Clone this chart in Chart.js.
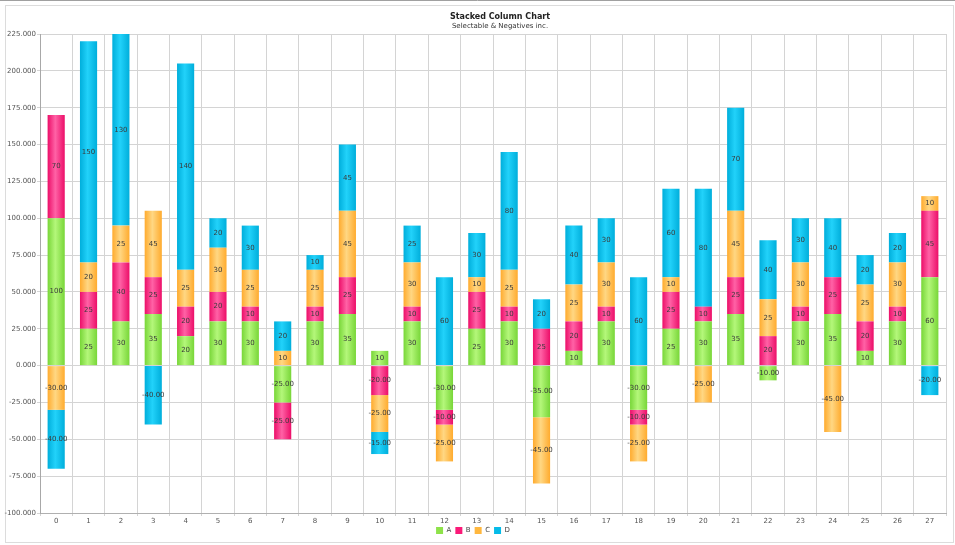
<!DOCTYPE html>
<html>
<head>
<meta charset="utf-8">
<script src="https://cdn.jsdelivr.net/npm/chart.js@4/dist/chart.umd.min.js"></script>
<style>
  html,body{margin:0;padding:0;background:#fff;}
  #wrap{width:955px;height:545px;position:relative;}
</style>
</head>
<body>
<div id="wrap"><canvas id="c" width="955" height="545"></canvas></div>
<script>
const categories = ["0","1","2","3","4","5","6","7","8","9","10","11","12","13","14","15","16","17","18","19","20","21","22","23","24","25","26","27"];
const seriesA = [100, 25, 30, 35, 20, 30, 30, -25, 30, 35, 10, 30, -30, 25, 30, -35, 10, 30, -30, 25, 30, 35, -10, 30, 35, 10, 30, 60];
const seriesB = [70, 25, 40, 25, 20, 20, 10, -25, 10, 25, -20, 10, -10, 25, 10, 25, 20, 10, -10, 25, 10, 25, 20, 10, 25, 20, 10, 45];
const seriesC = [-30, 20, 25, 45, 25, 30, 25, 10, 25, 45, -25, 30, -25, 10, 25, -45, 25, 30, -25, 10, -25, 45, 25, 30, -45, 25, 30, 10];
const seriesD = [-40, 150, 130, -40, 140, 20, 30, 20, 10, 45, -15, 25, 60, 30, 80, 20, 40, 30, 60, 60, 80, 70, 40, 30, 40, 20, 20, -20];
const seriesNames = ["A", "B", "C", "D"];
const yMin = -100, yMax = 225, yStep = 25;
const titleText = "Stacked Column Chart";
const subtitleText = "Selectable & Negatives inc.";

const palette = [
  {flat:"#8ee24a", edge:"#78d638", light:"#b4f77a"},
  {flat:"#fa1a78", edge:"#ec0e68", light:"#ff62a6"},
  {flat:"#ffb73e", edge:"#ffab2e", light:"#ffd783"},
  {flat:"#06bbe8", edge:"#00aedb", light:"#22d2fa"}
];
const BAR_PCT = 0.53;
const FONT = "'DejaVu Sans', Verdana, sans-serif";

function gradFor(idx){
  return (ctx) => {
    const chart = ctx.chart;
    const p = palette[idx];
    const xs = chart.scales && chart.scales.x;
    if (ctx.type !== 'data' || !xs || !chart.chartArea) return p.flat;
    const cx = xs.getPixelForValue(ctx.dataIndex);
    const w = xs.width / categories.length * BAR_PCT;
    const g = chart.ctx.createLinearGradient(cx - w/2, 0, cx + w/2, 0);
    g.addColorStop(0, p.edge);
    g.addColorStop(0.45, p.light);
    g.addColorStop(1, p.edge);
    return g;
  };
}

const dataLabelPlugin = {
  id: 'segLabels',
  afterDatasetsDraw(chart){
    const c = chart.ctx;
    const area = chart.chartArea;
    c.save();
    c.beginPath();
    c.rect(area.left, area.top, area.right - area.left, area.bottom - area.top);
    c.clip();
    c.font = "7px " + FONT;
    c.fillStyle = "#3a3a3a";
    c.textAlign = "center";
    c.textBaseline = "middle";
    chart.data.datasets.forEach((ds, di) => {
      const meta = chart.getDatasetMeta(di);
      meta.data.forEach((el, i) => {
        const v = ds.data[i];
        if (!v) return;
        const txt = v < 0 ? v.toFixed(2) : String(v);
        const top = Math.max(Math.min(el.y, el.base), area.top);
        const bot = Math.min(Math.max(el.y, el.base), area.bottom);
        c.fillText(txt, el.x, (top + bot) / 2);
      });
    });
    c.restore();
  }
};

const framePlugin = {
  id: 'frame',
  beforeDraw(chart){
    const c = chart.ctx;
    c.save();
    c.fillStyle = "#ffffff";
    c.fillRect(0, 0, chart.width, chart.height);
    c.strokeStyle = "#a0a0a0";
    c.lineWidth = 1;
    c.beginPath(); c.moveTo(0, 0.5); c.lineTo(chart.width, 0.5); c.stroke();
    c.strokeStyle = "#dcdcdc";
    c.strokeRect(5.5, 5.5, 948, 537);
    c.fillStyle = "#222";
    c.textAlign = "center";
    c.textBaseline = "middle";
    c.font = "bold 8px " + FONT;
    c.fillText(titleText, 500, 17);
    c.font = "7px " + FONT;
    c.fillStyle = "#333";
    c.fillText(subtitleText, 500, 26);
    c.restore();
  }
};

const seriesList = [seriesA, seriesB, seriesC, seriesD];

new Chart(document.getElementById('c'), {
  type: 'bar',
  data: {
    labels: categories,
    datasets: seriesList.map((s, i) => ({
      label: seriesNames[i],
      data: s,
      backgroundColor: gradFor(i),
      borderWidth: 0,
      barPercentage: BAR_PCT,
      categoryPercentage: 1.0
    }))
  },
  options: {
    responsive: false,
    animation: false,
    devicePixelRatio: 1,
    layout: { padding: { top: 34, right: 9, bottom: 1, left: 0 } },
    plugins: {
      title: { display: false },
      tooltip: { enabled: false },
      legend: {
        display: true,
        position: 'bottom',
        labels: {
          boxWidth: 7, boxHeight: 7, padding: 4,
          font: { size: 7, family: FONT },
          color: "#444",
          generateLabels(chart){
            return chart.data.datasets.map((ds, i) => ({
              text: ds.label, fillStyle: palette[i].flat, strokeStyle: palette[i].flat,
              lineWidth: 0, hidden: false, datasetIndex: i, fontColor: "#444"
            }));
          }
        }
      }
    },
    scales: {
      x: {
        stacked: true,
        grid: { color: "#d4d4d4", offset: true, tickLength: 3, drawTicks: true },
        border: { color: "#b0b0b0" },
        ticks: { font: { size: 7, family: FONT }, color: "#555", padding: 1, maxRotation: 0, autoSkip: false },
        afterFit(scale){ scale.height = 10; }
      },
      y: {
        stacked: true,
        min: yMin, max: yMax,
        grid: { color: "#d4d4d4", tickLength: 3 },
        border: { color: "#a8a8a8" },
        ticks: {
          stepSize: yStep,
          font: { size: 7, family: FONT }, color: "#555", padding: 1,
          callback: (v) => Number(v).toFixed(3)
        },
        afterFit(scale){ scale.width = 40; }
      }
    }
  },
  plugins: [framePlugin, dataLabelPlugin]
});
</script>
</body>
</html>
